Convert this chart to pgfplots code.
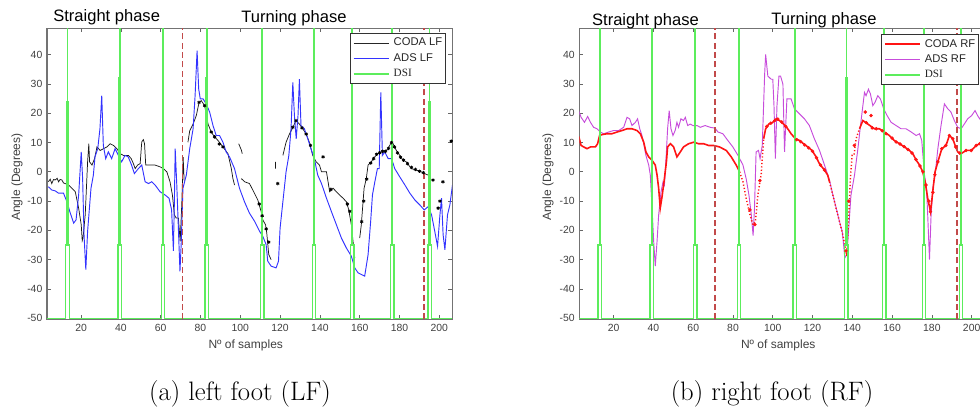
\documentclass[border=0pt]{standalone}
\usepackage{fontspec}
\usepackage{pgfplots}
\pgfplotsset{compat=1.18}
\newfontfamily\arial{Liberation Sans}
\newfontfamily\timesf{Liberation Serif}
\definecolor{dsigreen}{rgb}{0.36,0.93,0.36}
\definecolor{dashred}{rgb}{0.76,0.29,0.29}
\definecolor{adsblue}{rgb}{0.2,0.2,1}
\definecolor{adsmag}{rgb}{0.78,0.3,0.86}
\definecolor{codared}{rgb}{1,0.08,0.08}
\definecolor{ticktext}{rgb}{0.25,0.25,0.25}
\pgfplotsset{
  common/.style={
    scale only axis, width=303.8pt, height=218.25pt,
    anchor=south west,
    xmin=2.9, xmax=206.4, ymin=-50.35, ymax=49,
    xtick={20,40,...,200}, ytick={-50,-40,...,40},
    tick align=inside, tick pos=both, major tick length=3pt,
    axis line style={black!55, line width=0.8pt},
    every tick/.style={black!60, line width=0.5pt},
    ticklabel style={font=\arial\fontsize{7.8}{9}\selectfont, text=ticktext},
    /pgf/number format/assume math mode=true,
    unbounded coords=jump,
    legend image code/.code={\draw[##1] (0pt,0pt) -- (26.25pt,0pt);},
    legend cell align=left,
    legend style={anchor=north east, draw=black!80, line width=0.6pt, fill=white,
      font=\arial\fontsize{8.4}{9}\selectfont, text=black!85,
      inner xsep=1.5pt, inner ysep=3.2pt, row sep=3.6pt,
      nodes={inner xsep=1pt, inner ysep=0pt, text height=6.2pt, text depth=1.8pt},
      /tikz/every odd column/.append style={column sep=2pt}},
  },
  dsi/.style={dsigreen, line width=1pt, forget plot},
  vdash/.style={dashred, line width=1.1pt, dash pattern=on 4.5pt off 2.5pt, forget plot},
}
\begin{document}
\begin{tikzpicture}
\useasboundingbox (0pt,0pt) rectangle (735pt,306pt);
% ---------------- left foot ----------------
\begin{axis}[common, at={(35.25pt,66.525pt)},
  legend style={at={(0.985,0.984)}}]
\addlegendimage{black!85, line width=0.6pt}
\addlegendentry{CODA LF\hspace{6pt}}
\addlegendimage{adsblue, line width=0.6pt}
\addlegendentry{ADS LF}
\addlegendimage{dsigreen, line width=1.6pt}
\addlegendentry{\timesf DSI}
% CODA LF
\addplot[black!90, line width=0.55pt, forget plot] coordinates {
(3.6,-3.4)(4.5,-2.5)(5.3,-4)(6.2,-2.6)(7,-2.8)(8,-2.2)(8.7,-3.4)(9.5,-2.6)(10.4,-2.8)(11.2,-3.8)(12,-4)(13.7,-4.5)(15.4,-5.6)(17.1,-6.8)(18.8,-12.4)(20.1,-18.1)(20.6,-23.5)(21,-22.6)(22.1,-14.7)(23.3,3.4)(23.9,9.6)(24.3,3.4)(25.5,2.3)(26.8,4.5)(28,8.5)(29.6,7.3)(31.3,7.9)(33,8.5)(34.6,9.6)(36.3,9)(38,7.9)(39.7,6.2)(41.3,5.6)(43.8,5.6)(45.2,4.5)(46.3,2.8)(47.2,1.1)(48.4,2.3)(49.7,2.8)(50.5,10.2)(51.3,11)(51.9,9.6)(52.5,2.3)(54.7,2.3)(57.2,2.3)(59.7,1.7)(61.4,1.1)(63.1,0)(64.7,-3.4)(65.9,-7.9)(66.9,-14.7)(67.8,-15.8)(68.9,-15.8)(69.8,-23.7)(70.6,-11.3)(71,-2)(71.3,5)(71.8,-3)
(72,nan)
(73.7,10.1)(74.6,14)(76.3,16.3)(77.9,19.2)(79.3,23.7)(80.4,24.3)(82.1,22.6)(83.8,16.3)(85.4,13.6)(87.1,11.9)(88.8,10.7)(91.3,8.5)(93.8,6.2)(95.5,1.1)(96.3,-2.3)(97.1,-4.5)
(98,nan)
(99.2,9.6)(100.5,7.5)(101,6.2)
(101,nan)
(100.5,-2.3)(102.2,-3.4)(104.6,-4)(106.3,-6.2)(108.8,-9.6)(110.5,-13.6)(111.3,-16.4)(112.7,-18.1)(113.3,-20.9)(114.3,-28.2)(115.5,-30)
(116,nan)
(117.7,3.4)(117.7,1.1)
(118,nan)
(121.4,5.6)(123,10.1)(124.7,12.9)(126.4,15.2)(128,17.5)(129.7,16.3)(131.4,14.7)(133.1,12.9)(134.7,10.1)(136.4,5.6)(138.1,3.4)(139.8,2.3)(140.8,0)(143.3,0)(144.9,-6.8)(146.6,-5.6)(148.3,-6.8)(149.9,-7.9)(151.6,-9)(153.3,-10.2)(154.5,-13)(155.8,-18.1)(157.5,-29.4)
(158,nan)
(160,-22.6)(160.8,-18.1)(161.3,-13.6)(162.2,-5.6)(163.3,-2.3)(164.2,2.3)(165.8,3.4)(167.5,5.1)(169.2,6.2)(170.8,6.8)(172.5,6.8)(174.2,7.9)(175.9,10.1)(176.7,9.6)(178.4,7.3)(180.1,5.6)(181.7,4)(183.4,3.4)(185.9,1.1)(188.4,0.6)(190.9,0)(192.6,-0.6)(194.3,-1.1)
(195,nan)
(205.5,10)(206.4,10.5)
};
\addplot[black, only marks, mark=asterisk, mark size=1.3pt, line width=0.6pt, forget plot] coordinates {
(79.3,23.7)(82.1,22.6)(85.4,13.6)(87.1,11.9)(89.5,9.5)(91.3,8.5)(109.5,-11)(111,-15)(113,-19.5)(114.3,-24)(118.8,-4)(126.4,15.2)(128,17.5)(131,15)(133.1,12.9)(135.3,9)(141.6,5.1)(145.5,-6)(153.8,-11)(155,-13.5)(161,-17)(162,-10)(163.5,-2.5)(165.5,3)(167,4.5)(168.5,6)(170,6.5)(171.5,7)(173,7)(174.5,8)(176,10)(177.5,8.5)(179,6.5)(180.5,5)(182,4)(184,2.8)(186,1.5)(188,0.8)(190,0.2)(192,-0.3)(196.8,-2.8)(199.4,-12.4)(200.3,-10)(201.8,-3.4)(206,10.5)
};
% ADS LF
\addplot[adsblue, line width=0.7pt, forget plot] coordinates {
(3.6,-5.1)(5.3,-6.2)(7,-6.5)(8.7,-7.3)(11.2,-7.3)(12.9,-10.2)(14.6,-14.1)(16.3,-17.5)(17.5,-16.4)(18.8,-7.9)(20.1,6.8)(20.8,-2.3)(21.5,-21.5)(22.4,-33.4)(23.3,-20.3)(25,-5.6)(26.2,-1.1)(27,5.1)(28.4,7.9)(29.5,14.7)(30.4,26)(31.2,9)(32.4,4.5)(33.7,6.8)(35.4,4.5)(37.1,7.9)(38.8,5.6)(40.4,3.4)(42.1,5.6)(43.7,5.1)(45.4,2.3)(46.8,-0.6)(48.8,1.1)(50.5,2.3)(52.2,-3.4)(53.9,-4)(55.5,-3.4)(57.2,-4.5)(59.7,-6.8)(62.2,-7.9)(64.2,-9)(65.5,-13)(66.4,-27)(66.9,-10)(67.3,7.9)(68.1,-4.5)(69.7,-34)(70.3,-24.9)(71.2,-5.6)(72.9,-1.1)(74.6,7.9)(76.3,14.7)(77.3,26)(78.3,41.4)(79.1,28.3)(79.9,24.9)(81.3,24.9)(82.9,23.2)(84.6,20.4)(86.3,15.8)(87.9,12.4)(89.6,12.4)(91.3,10.1)(92.9,6.8)(94.6,5.1)(97.1,1.1)(99.6,-5.6)(102.1,-10.2)(104.6,-14.1)(107.2,-16.9)(109.7,-20.3)(111.3,-22)(113,-24.9)(113.8,-30.5)(115.5,-32.2)(118,-32.8)(119.2,-30.5)(120,-19.2)(121.4,-10.2)(123,0)(124.4,5.6)(125.5,14.7)(126.4,30.5)(127.2,19.2)(128.1,11.3)(129,19.2)(129.7,31.6)(130.5,15.8)(132.2,14.7)(133.9,11.3)(135.5,7.9)(137.2,4.5)(138.9,-1.1)(140.8,-4)(143.3,-9)(145.8,-13.6)(148.3,-18.1)(150.8,-22.6)(153.3,-26)(155.8,-28.8)(157.5,-32.8)(159.2,-34.5)(162.5,-35.6)(164.2,-28.3)(165.5,-16.9)(166.4,-7.9)(167.6,-3.4)(168.9,1.1)(169.8,1.1)(170.6,27.1)(171.4,5.6)(172.6,6.8)(174.3,4.5)(176,4.5)(177.6,1.1)(180.1,-1.7)(182.7,-4.5)(185.2,-7.3)(187.7,-9.6)(190.2,-11.3)(192.4,-13)(194.4,-11.9)(196.1,-14.7)(197.7,-20.3)(199.1,-25.4)(200.3,-14.7)(201.1,-9)(201.9,-21.5)(202.8,-26.6)(204.1,-14.7)(205.3,-11.3)(206.6,-4.5)
};
% DSI
\addplot[dsi] coordinates {
(2.9,-50)
(12.35,-50)(12.35,-25)(12.95,-25)(12.95,24)(13.1,24)(13.1,80)(13.3,80)(13.3,24)(13.45,24)(13.45,-25)(14.05,-25)(14.05,-50)
(38.55,-50)(38.55,-25)(39.15,-25)(39.15,32)(39.3,32)(39.3,80)(39.5,80)(39.5,32)(39.65,32)(39.65,-25)(40.25,-25)(40.25,-50)
(60.35,-50)(60.35,-25)(60.95,-25)(60.95,32)(61.1,32)(61.1,80)(61.3,80)(61.3,32)(61.45,32)(61.45,-25)(62.05,-25)(62.05,-50)
(82.25,-50)(82.25,-25)(82.85,-25)(82.85,32)(83,32)(83,80)(83.2,80)(83.2,32)(83.35,32)(83.35,-25)(83.95,-25)(83.95,-50)
(110.15,-50)(110.15,-25)(110.75,-25)(110.75,32)(110.9,32)(110.9,80)(111.1,80)(111.1,32)(111.25,32)(111.25,-25)(111.85,-25)(111.85,-50)
(136.15,-50)(136.15,-25)(136.75,-25)(136.75,32)(136.9,32)(136.9,80)(137.1,80)(137.1,32)(137.25,32)(137.25,-25)(137.85,-25)(137.85,-50)
(155.35,-50)(155.35,-25)(155.95,-25)(155.95,24)(156.1,24)(156.1,80)(156.3,80)(156.3,24)(156.45,24)(156.45,-25)(157.05,-25)(157.05,-50)
(175.45,-50)(175.45,-25)(176.05,-25)(176.05,24)(176.2,24)(176.2,80)(176.4,80)(176.4,24)(176.55,24)(176.55,-25)(177.15,-25)(177.15,-50)
(194.25,-50)(194.25,-25)(194.85,-25)(194.85,24)(195,24)(195,80)(195.2,80)(195.2,24)(195.35,24)(195.35,-25)(195.95,-25)(195.95,-50)
(206.4,-50)
};
\addplot[vdash] coordinates {(71.1,-50.35)(71.1,49)};
\addplot[vdash] coordinates {(192.4,-50.35)(192.4,49)};
\end{axis}
% ---------------- right foot ----------------
\begin{axis}[common, at={(434.475pt,66.525pt)}, xmin=2.7,
  legend style={at={(0.9867,0.980)}}]
\addlegendimage{codared, line width=1.6pt}
\addlegendentry{CODA RF\hspace{6pt}}
\addlegendimage{adsmag, line width=0.6pt}
\addlegendentry{ADS RF}
\addlegendimage{dsigreen, line width=1.6pt}
\addlegendentry{\timesf DSI}
% ADS RF
\addplot[adsmag, line width=0.7pt, forget plot] coordinates {
(2.4,20.9)(3.6,18.6)(5.3,16.9)(6.9,18.9)(8.3,16.9)(9.9,15.2)(11.6,14.7)(13.3,13.6)(14.9,13)(17.5,13.6)(20,14.1)(22.5,14.1)(25,15.2)(26.7,18.6)(28,18.1)(29.2,15.8)(30.9,16.9)(32,18.1)(33.1,14.7)(34.2,12.4)(35.1,9.6)(36.2,5.6)(37.6,2.3)(38.4,-1.1)(39.2,-11.3)(40.1,-23.7)(40.9,-32.2)(41.8,-23.7)(42.6,-14.7)(43.8,-6.8)(44.8,-3.4)(45.5,-4.5)(46.4,5.6)(47.1,14.7)(47.9,20.9)(48.8,14.7)(49.8,12.4)(50.9,14.1)(51.8,16.9)(52.6,15.2)(53.8,18.1)(55.1,17.5)(56,18.6)(57.2,15.8)(58.5,16.3)(59.8,15.8)(61.9,15.8)(63.5,15.2)(66,15.8)(68.5,15.2)(71,14.9)(72.4,13.6)(74.9,13)(77.4,10.7)(79.9,8.5)(82.5,5.6)(85,2.3)(86.6,-2.3)(88,-7.9)(89.2,-14.7)(90.1,-21.8)(90.8,-12.4)(91.6,6.8)(92.8,7.3)(93.6,4.5)(94.7,9)(95.9,33.3)(96.4,40.1)(97.5,32.7)(99.2,31.6)(100,31.6)(100.6,22.6)(101.3,4.5)(102.1,22.6)(103.1,32.7)(103.9,32.7)(105.1,29.9)(105.9,6.8)(107.1,24.9)(109.2,24.9)(110.9,21.5)(113.4,19.8)(115.9,18.1)(118.4,15.8)(120.9,11.3)(123.5,7.3)(126,2.3)(128.5,-2.8)(130.2,-7.9)(131.9,-12.4)(133.5,-16.9)(134.9,-20.3)(135.6,-24.9)(136.2,-29.4)(137.2,-28.3)(138.2,-19.2)(139.3,-8)(141.1,-1.1)(142.8,7.9)(144.1,15.8)(145.3,22.6)(146.1,27.1)(146.9,26)(148.1,28.2)(149.1,26.6)(150.3,22.6)(151.4,23.7)(152.8,26)(154.1,24.9)(155.8,21.5)(157.5,19.2)(159.5,16.9)(162,15.8)(164.5,14.7)(167,14.7)(169.6,13.6)(172.1,12.4)(173.8,13)(174.9,10.7)(176.3,-1.1)(177.3,-5.6)(177.9,-14.7)(178.8,-30)(179.6,-14.7)(180.5,-5.6)(181.6,-1.1)(183,7.9)(184.6,15.8)(186.3,23.2)(188,21.5)(189.6,20.4)(191.3,17.5)(193,15.2)(194.7,14.7)(196.3,16.3)(198,18.1)(200,19.2)(201.7,20.9)(203,19.2)(204,18.1)(205,19)(206.4,20)
};
% CODA RF
\addplot[codared, line width=1.2pt, forget plot] coordinates {
(2.4,12.1)(3.6,9)(4.9,8.5)(6.6,7.9)(8.3,8.5)(10.8,8.5)(11.9,9.6)(12.9,12.4)(14.1,12.7)(16.6,13)(19.1,13)(21.7,13.6)(24.2,14.1)(26.7,14.7)(29.2,14.7)(31.7,14.1)(33.4,13)(35.1,10.1)(36.2,6.8)(37.6,5.1)(39.2,4)(40.9,2.3)(41.8,-1.1)(42.6,-5.6)(43.4,-12.4)(44.3,-8.5)(45.5,-2.3)(46.5,3.4)(47.1,8.5)(48.5,9.6)(50.1,8.5)(51.8,5.1)(53.5,6.8)(55.1,8.5)(57.7,9.6)(60.2,10.1)(62.7,9.6)(65.2,9.6)(67.7,9)(70.2,9)(73.2,8.5)(76.6,7.3)(79.1,5.1)(81.6,2.3)(83.3,0)
(84,nan)
(95.4,11.3)(96.4,14.7)(98,16.3)(100,16.9)(101.7,18.1)(103.4,17.5)(105.4,16.3)(107,15.2)(109.2,13)(111.4,11.3)(113.4,10.7)(115.4,9.6)(117.6,8.5)(119.7,7.3)(121.8,5.1)(123.4,2.8)(126,0.6)(127.6,-1.1)(128.5,-3.4)
(129,nan)
(143.6,14.7)(145.3,17.5)(147.8,16.3)(151.1,14.7)(153.6,14.7)(156.1,13.6)(158.6,12.4)(161.1,10.7)(163.7,9.6)(166.2,8.5)(168.7,7.3)(170.4,6.2)(172.1,4)(173.8,2.3)(175.4,0)(176.6,-3.4)(177.9,-9)(179.3,-13.6)(179.9,-10.2)(180.8,-4.5)(181.6,0)(183,3.4)(185,7.9)(187.1,9)(188.8,12.4)(190.5,11.3)(191.7,9)(193,6.8)(194.7,6.2)(197.2,7.3)(199.8,7.3)(202.3,9)(204.1,9.6)(206.4,9)
};
\addplot[codared, line width=1.1pt, dash pattern=on 0.9pt off 1.6pt, forget plot] coordinates {
(83.3,0)(85,-3.4)(86.6,-9)(88.3,-14.1)(90,-18.1)(91.3,-16.9)(92.5,-7.9)(94.2,-0.6)(95.4,11.3)
(96,nan)
(128.5,-3.4)(130.2,-7.9)(131.8,-12.4)(133.5,-16.9)(135.2,-21.5)(136.5,-26)(137.2,-28.8)(137.9,-19.2)(138.6,-9)(139.1,-1.1)(139.9,5.6)(140.8,5.6)(141.9,11.3)(143.6,14.7)
};
\addplot[codared, only marks, mark=*, mark size=1.1pt, forget plot] coordinates {
(97,15.5)(99,16.6)(101,17.5)(102.5,18)(104.5,17)(106.5,15.5)(112,11)(114,10.3)(116,9.2)(118,8.2)(120,7)(122,4.8)(124,2.3)(126,0.6)(146.5,20.4)(149.4,19.2)(147,16.8)(150,15)(152,14.7)(155,14)(157,13)(160,11.5)(162,10.2)(164,9.5)(166,8.6)(168,7.6)(170,6.4)(172,4.2)(174,2)(175.5,0)(177,-4.5)(178.5,-10)(179.3,-13.6)(180.5,-7)(181.5,-1)(183,3.4)(185,7.9)(187,9)(188.8,12.4)(190.5,11.3)(192,8.5)(194,6.4)(197.2,7.3)(199.8,7.3)(202.3,9)(204.1,9.6)(88.5,-13)(91,-18)(93.5,-3)(136.8,-27)(138.2,-10)(141,9)
};
% DSI
\addplot[dsi] coordinates {
(2.7,-50)
(12.15,-50)(12.15,-25)(12.75,-25)(12.75,24)(12.9,24)(12.9,80)(13.1,80)(13.1,24)(13.25,24)(13.25,-25)(13.85,-25)(13.85,-50)
(38.25,-50)(38.25,-25)(38.85,-25)(38.85,32)(39,32)(39,80)(39.2,80)(39.2,32)(39.35,32)(39.35,-25)(39.95,-25)(39.95,-50)
(60.15,-50)(60.15,-25)(60.75,-25)(60.75,32)(60.9,32)(60.9,80)(61.1,80)(61.1,32)(61.25,32)(61.25,-25)(61.85,-25)(61.85,-50)
(82.15,-50)(82.15,-25)(82.75,-25)(82.75,32)(82.9,32)(82.9,80)(83.1,80)(83.1,32)(83.25,32)(83.25,-25)(83.85,-25)(83.85,-50)
(110.15,-50)(110.15,-25)(110.75,-25)(110.75,32)(110.9,32)(110.9,80)(111.1,80)(111.1,32)(111.25,32)(111.25,-25)(111.85,-25)(111.85,-50)
(136.15,-50)(136.15,-25)(136.75,-25)(136.75,32)(136.9,32)(136.9,80)(137.1,80)(137.1,32)(137.25,32)(137.25,-25)(137.85,-25)(137.85,-50)
(155.15,-50)(155.15,-25)(155.75,-25)(155.75,24)(155.9,24)(155.9,80)(156.1,80)(156.1,24)(156.25,24)(156.25,-25)(156.85,-25)(156.85,-50)
(175.15,-50)(175.15,-25)(175.75,-25)(175.75,24)(175.9,24)(175.9,80)(176.1,80)(176.1,24)(176.25,24)(176.25,-25)(176.85,-25)(176.85,-50)
(193.85,-50)(193.85,-25)(194.45,-25)(194.45,24)(194.6,24)(194.6,80)(194.8,80)(194.8,24)(194.95,24)(194.95,-25)(195.55,-25)(195.55,-50)
(206.4,-50)
};
\addplot[vdash] coordinates {(70.9,-50.35)(70.9,49)};
\addplot[vdash] coordinates {(192.7,-50.35)(192.7,49)};
\end{axis}
% ---------------- texts ----------------
\begin{scope}[every node/.style={font=\arial\fontsize{12.4}{14}\selectfont, anchor=base, inner sep=0pt}]
\node at (80pt,289.9pt) {Straight phase};
\node at (220.5pt,288.75pt) {Turning phase};
\node at (484.1pt,286.5pt) {Straight phase};
\node at (618pt,287.25pt) {Turning phase};
\end{scope}
\begin{scope}[every node/.style={font=\arial\fontsize{9}{11}\selectfont, text=ticktext, inner sep=0pt}]
\node[anchor=base] at (184.3pt,44.8pt) {Nº of samples};
\node[anchor=base] at (583.7pt,44.8pt) {Nº of samples};
\node[rotate=90] at (12.75pt,173.25pt) {Angle (Degrees)};
\node[rotate=90] at (411pt,173.25pt) {Angle (Degrees)};
\end{scope}
\node[font=\fontsize{20}{24}\selectfont, anchor=base, inner sep=0pt] at (180pt,6pt) {(a) left foot (LF)};
\node[font=\fontsize{20}{24}\selectfont, anchor=base, inner sep=0pt] at (579pt,6pt) {(b) right foot (RF)};
\end{tikzpicture}
\end{document}
